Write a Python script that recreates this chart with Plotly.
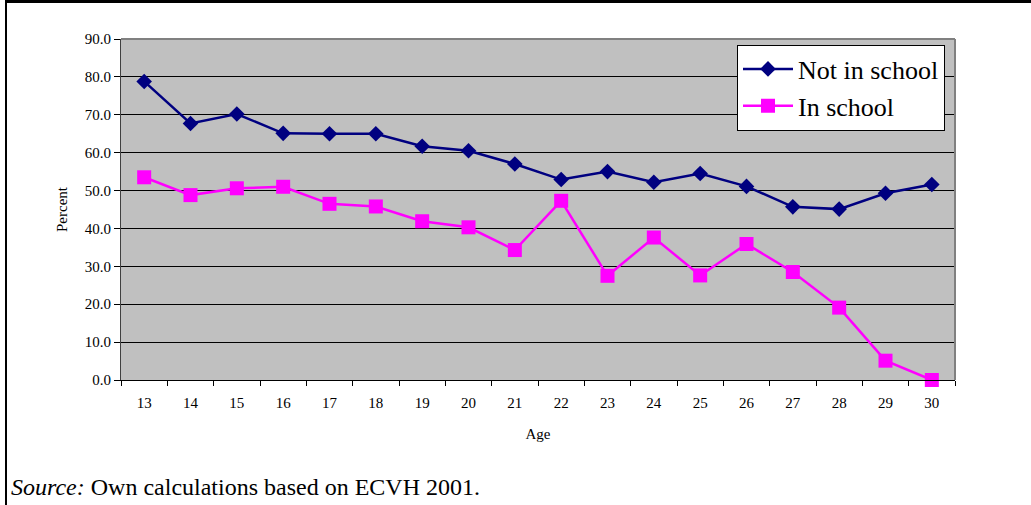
import plotly.graph_objects as go

ages = [str(a) for a in range(13, 31)]
not_in_school = [78.8, 67.7, 70.2, 65.1, 65.0, 65.0, 61.7, 60.5, 57.0, 52.9, 55.0, 52.2, 54.5, 51.1, 45.7, 45.1, 49.3, 51.6]
in_school = [53.5, 48.8, 50.6, 51.0, 46.5, 45.8, 41.9, 40.3, 34.3, 47.3, 27.5, 37.6, 27.6, 35.9, 28.5, 19.1, 5.1, 0.0]
y_ticks = [0, 10, 20, 30, 40, 50, 60, 70, 80, 90]
y_tick_labels = [f"{v:.1f}" for v in y_ticks]

FONT = "Liberation Serif, Times New Roman, Times, serif"
W, H = 1031, 505
L, R, T, B = 121, 76, 39, 125
pw, ph = W - L - R, H - T - B

def px2x(px):
    return (px - L) / pw

def px2y(py):
    return 1 - (py - T) / ph

fig = go.Figure()
fig.add_trace(go.Scatter(
    x=ages, y=not_in_school, name="Not in school", mode="lines+markers",
    line=dict(color="#000080", width=2.5),
    marker=dict(symbol="diamond", size=12, color="#000080"),
    cliponaxis=False,
))
fig.add_trace(go.Scatter(
    x=ages, y=in_school, name="In school", mode="lines+markers",
    line=dict(color="#FF00FF", width=2.5),
    marker=dict(symbol="square", size=14, color="#FF00FF"),
    cliponaxis=False,
))

fig.update_layout(
    width=W, height=H,
    margin=dict(l=L, r=R, t=T, b=B, pad=0),
    paper_bgcolor="white",
    plot_bgcolor="#C0C0C0",
    font=dict(family=FONT, size=15, color="black"),
    showlegend=True,
    legend=dict(
        x=px2x(945), y=px2y(44.5), xanchor="right", yanchor="top",
        bgcolor="white", bordercolor="black", borderwidth=1,
        font=dict(family=FONT, size=26, color="black"),
        itemwidth=50, tracegroupgap=0,
    ),
    xaxis=dict(
        type="category", range=[-0.5, 17.5],
        tickson="boundaries", ticks="outside", ticklen=5, tickcolor="black",
        showgrid=False, showline=True, linecolor="black", linewidth=1,
        tickfont=dict(family=FONT, size=15),
        ticklabelstandoff=9,
        title=dict(text="Age", font=dict(family=FONT, size=15), standoff=18),
        mirror=False,
    ),
    yaxis=dict(
        range=[0, 90], tickvals=y_ticks, ticktext=y_tick_labels,
        ticks="outside", ticklen=6, tickcolor="black",
        showgrid=True, gridcolor="black", gridwidth=1,
        showline=True, linecolor="#404040", linewidth=1,
        tickfont=dict(family=FONT, size=15),
        title=dict(text="Percent", font=dict(family=FONT, size=15), standoff=13),
        zeroline=False,
    ),
    shapes=[
        dict(type="line", xref="paper", yref="paper", x0=0, x1=1, y0=1, y1=1,
             line=dict(color="#808080", width=2)),
        dict(type="line", xref="paper", yref="paper", x0=1, x1=1, y0=0, y1=1,
             line=dict(color="#808080", width=2)),
        dict(type="line", xref="paper", yref="paper", x0=px2x(5), x1=px2x(1031),
             y0=px2y(1.5), y1=px2y(1.5), line=dict(color="black", width=3)),
        dict(type="line", xref="paper", yref="paper", x0=px2x(6), x1=px2x(6),
             y0=px2y(0), y1=px2y(505), line=dict(color="black", width=2)),
    ],
    annotations=[
        dict(text="<i>Source:</i> Own calculations based on ECVH 2001.",
             xref="paper", yref="paper", x=px2x(9), y=px2y(487),
             xanchor="left", yanchor="middle", showarrow=False,
             font=dict(family=FONT, size=24, color="black")),
    ],
)

fig.write_html("out.html", config={"displayModeBar": False},
               post_script="document.body.style.margin='0';")
